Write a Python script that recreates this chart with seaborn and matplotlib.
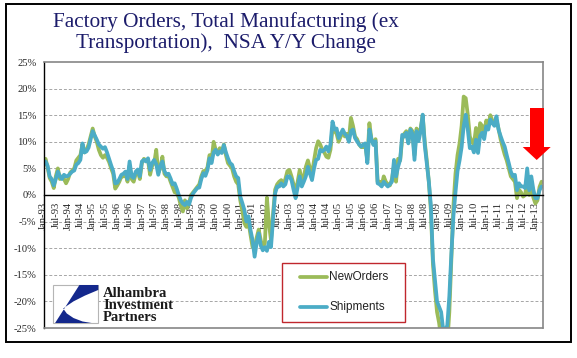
import numpy as np
import pandas as pd
import matplotlib
matplotlib.use("Agg")
import matplotlib.pyplot as plt
from matplotlib.patches import Rectangle, Polygon
import seaborn as sns

# monthly y/y change (%), Jan-93 .. Apr-13
shipments = [
    5.7, 6.3, 5.5, 3.5, 3.0, 1.8, 3.0, 4.4, 3.5, 3.0, 3.8, 3.5,
    3.6, 4.0, 4.4, 4.6, 5.7, 6.0, 6.6, 9.7, 8.0, 8.2, 8.9, 10.5,
    12.0, 11.2, 10.4, 9.5, 9.1, 8.7, 9.0, 8.0, 6.8, 5.6, 4.5, 2.2,
    2.3, 3.0, 3.8, 4.0, 4.4, 3.0, 6.3, 3.5, 3.2, 4.4, 4.8, 3.5,
    6.3, 6.6, 6.3, 6.9, 4.7, 6.0, 6.6, 5.8, 3.8, 5.5, 6.3, 4.5,
    3.8, 4.0, 3.1, 2.0, 2.2, 1.2, 0.0, -1.0, -1.6, -1.9, -1.3, -1.8,
    -0.5, 0.3, 0.8, 1.3, 1.4, 3.0, 4.1, 3.6, 4.7, 6.9, 6.0, 8.0,
    8.5, 7.6, 8.2, 7.9, 9.4, 8.0, 6.9, 6.0, 5.7, 4.5, 3.5, 3.2,
    -0.3, -1.5, -2.8, -5.0, -4.0, -6.6, -8.5, -11.6, -9.0, -7.2, -9.5, -10.4,
    -9.8, -10.5, -8.8, -9.8, -4.5, 0.3, 1.6, 1.6, 2.2, 1.6, 2.0, 3.5,
    3.5, 2.8, 1.0, -0.6, 1.5, 3.5, 1.6, 2.5, 3.5, 5.3, 4.0, 2.8,
    5.0, 6.6, 6.8, 8.5, 8.2, 8.5, 9.1, 8.2, 9.5, 13.8, 12.3, 12.5,
    10.7, 11.5, 12.3, 11.5, 11.1, 10.0, 12.0, 12.3, 10.7, 10.1, 9.5, 9.1,
    9.5, 9.7, 6.0, 12.3, 10.5, 9.4, 10.1, 2.2, 2.0, 1.6, 2.5, 2.0,
    1.6, 2.0, 2.5, 6.6, 3.5, 5.3, 6.6, 11.3, 11.0, 11.7, 9.7, 12.3,
    11.5, 6.6, 12.0, 10.1, 12.0, 15.1, 9.4, 6.0, 2.5, -2.0, -12.0, -16.0,
    -20.0, -21.0, -22.0, -25.3, -25.5, -24.5, -19.0, -11.0, -4.0, 0.5, 4.5, 6.5,
    9.0, 12.9, 15.1, 12.3, 8.8, 9.1, 8.0, 10.4, 7.9, 11.1, 11.7, 10.5,
    12.9, 12.3, 14.2, 13.5, 13.0, 14.8, 12.3, 11.1, 10.0, 9.1, 7.5, 6.0,
    4.4, 3.5, 3.8, 0.9, 2.2, 1.6, 1.6, 1.3, 5.0, 0.9, 3.5, 1.0,
    -0.6, -0.6, 0.9, 1.6,
]
new_orders = [
    6.0, 6.8, 5.2, 3.2, 2.5, 1.3, 3.5, 5.0, 3.0, 3.5, 3.0, 2.2,
    3.0, 4.2, 4.6, 5.0, 6.5, 7.0, 7.5, 9.5, 8.0, 8.5, 9.5, 11.0,
    12.5, 11.0, 10.0, 8.5, 7.5, 7.0, 7.5, 7.0, 6.2, 5.0, 4.0, 1.2,
    1.8, 2.5, 3.5, 3.5, 4.0, 2.5, 5.5, 3.0, 2.5, 4.0, 4.5, 3.0,
    6.0, 6.8, 6.5, 6.5, 3.8, 5.5, 6.0, 8.5, 4.2, 5.0, 7.2, 4.0,
    3.5, 3.6, 2.5, 1.5, 0.5, 0.5, -0.5, -2.0, -3.1, -1.0, -2.5, -1.5,
    0.0, 0.5, 1.0, 1.5, 2.0, 3.5, 4.5, 4.5, 5.2, 7.5, 6.5, 10.0,
    8.5, 8.0, 8.8, 8.0, 9.5, 7.5, 6.0, 5.5, 5.0, 3.5, 2.5, 2.0,
    -1.0, -3.0, -5.3, -6.0, -5.0, -7.5, -9.8, -9.9, -8.0, -6.5, -8.5, -10.0,
    -9.0, -0.5, -5.5, -8.5, -3.5, 1.0, 2.0, 2.5, 2.8, 2.0, 3.0, 4.5,
    4.7, 3.5, 2.0, 0.5, 2.5, 4.7, 2.5, 3.5, 5.3, 6.5, 5.0, 4.0,
    6.5, 8.8, 10.1, 9.5, 8.5, 8.0, 7.2, 7.0, 8.5, 12.5, 12.0, 11.5,
    10.0, 11.0, 12.0, 11.0, 11.5, 10.5, 14.5, 13.0, 11.0, 10.5, 9.5, 9.0,
    9.0, 9.5, 6.5, 13.5, 10.5, 9.5, 10.5, 2.5, 2.5, 1.8, 3.5, 2.5,
    2.0, 1.8, 3.0, 5.5, 2.5, 6.8, 6.5, 10.5, 11.5, 12.0, 10.0, 12.5,
    12.0, 7.5, 12.5, 11.0, 12.5, 15.0, 10.0, 6.5, 2.5, -3.0, -13.0, -18.0,
    -22.0, -24.0, -27.0, -28.5, -29.0, -28.0, -22.0, -12.0, -2.0, 4.0, 7.5, 9.7,
    13.0, 18.5, 18.2, 15.1, 11.0, 10.0, 9.5, 12.6, 9.0, 13.5, 13.0, 11.5,
    14.0, 13.0, 15.0, 14.0, 13.5, 14.0, 12.5, 10.5, 9.0, 7.6, 6.5, 5.0,
    3.5, 3.0, 2.5, -0.6, 1.0, 0.5, -0.3, 0.0, 3.0, 0.0, 1.5, -0.5,
    -1.6, -1.0, 1.5, 2.5,
]
months = list(range(len(shipments)))
tick_months = list(range(0, 241, 6))
tick_labels = [("Jan" if m % 12 == 0 else "Jul") + "-%02d" % ((93 + m // 12) % 100) for m in tick_months]
y_ticks = list(range(-25, 26, 5))

df = pd.concat([
    pd.DataFrame({"month": months, "value": new_orders, "series": "NewOrders"}),
    pd.DataFrame({"month": months, "value": shipments, "series": "Shipments"}),
])

W, H = 577, 358
def px(x, y):
    # pixel position (from top-left) -> figure fraction
    return (x / W, 1 - y / H)

sns.set_style("white")
serif = ["Liberation Serif", "DejaVu Serif"]
fig = plt.figure(figsize=(W / 100, H / 100), dpi=100)
ax = fig.add_axes([43.5 / W, 1 - 328 / H, (543 - 43.5) / W, (328 - 62) / H])

colors = {"NewOrders": "#9BBB59", "Shipments": "#4BACC6"}
sns.lineplot(data=df, x="month", y="value", hue="series", palette=colors,
             linewidth=2.7, legend=False, ax=ax)

ax.set_xlim(0, 243.7)
ax.set_ylim(-25, 25)
ax.set_xlabel("")
ax.set_ylabel("")
for v in y_ticks:
    if v not in (-25, 0, 25):
        ax.axhline(v, color="#A6A6A6", lw=0.7, ls=(0, (3, 2)), zorder=0)
ax.axhline(-25, color="#868686", lw=1.2, zorder=3, clip_on=False)

ax.spines["bottom"].set_position(("data", 0))
ax.spines["bottom"].set_color("black")
ax.spines["bottom"].set_linewidth(1.0)
ax.spines["left"].set_color("black")
ax.spines["left"].set_linewidth(1.0)
for s in ("top", "right"):
    ax.spines[s].set_color("#868686")
    ax.spines[s].set_linewidth(1.2)

ax.set_xticks(tick_months)
ax.set_xticklabels(tick_labels, rotation=90, family=serif, fontsize=7.6)
ax.set_yticks(y_ticks)
ax.set_yticklabels(["%d%%" % v for v in y_ticks], family=serif, fontsize=7.6)
ax.tick_params(axis="x", direction="out", length=4, width=0.8, pad=1)
ax.tick_params(axis="y", direction="out", length=3, width=0.8, pad=2)

# title
fig.text(226 / W, 1 - 12 / H,
         "Factory Orders, Total Manufacturing (ex\nTransportation),  NSA Y/Y Change",
         ha="center", va="top", family=serif, fontsize=15.3, color="#1C1C6B",
         linespacing=1.1)

# outer frame
fig.patches.append(Rectangle(px(6, 342), 565 / W, 338 / H, transform=fig.transFigure,
                             fill=False, edgecolor="black", lw=1.4))

# legend box
fig.patches.append(Rectangle(px(282, 322), 123 / W, 59 / H, transform=fig.transFigure,
                             facecolor="white", edgecolor="#C0272D", lw=1.0, zorder=5))
for name, yy in (("NewOrders", 277), ("Shipments", 307)):
    fig.lines.append(plt.Line2D([300 / W, 327 / W], [1 - yy / H] * 2, transform=fig.transFigure,
                                color=colors[name], lw=2.7, zorder=6))
    fig.text(329 / W, 1 - yy / H, name, ha="left", va="center", fontsize=8.5,
             family="Liberation Sans", color="#222222", zorder=6)

# logo
fig.patches.append(Rectangle(px(53.3, 323), 45 / W, 38 / H, transform=fig.transFigure,
                             facecolor="white", edgecolor="#B5B5B5", lw=0.8, zorder=5))
shape = [(0.58, 1), (1, 1), (1, 0.87), (0.7, 0.72), (0.45, 0.57), (0.3, 0.45), (0.22, 0.38),
         (0.3, 0.25), (0.45, 0.13), (0.65, 0.04), (0.85, 0), (0.04, 0)]
fig.patches.append(Polygon([px(53.3 + 45 * u, 323 - 38 * v) for u, v in shape], closed=True,
                           transform=fig.transFigure, facecolor="#14288C", edgecolor="none", zorder=6))
for word, yy in (("Alhambra", 296.7), ("Investment", 309.3), ("Partners", 321)):
    fig.text(103 / W, 1 - yy / H, word, ha="left", va="baseline", family=serif,
             fontsize=10.5, fontweight="bold", color="#1A1A1A", zorder=6)

# red arrow
arrow = [(530, 108), (544, 108), (544, 147), (550.7, 147), (536.7, 160), (522.7, 147), (530, 147)]
fig.patches.append(Polygon([px(x, y) for x, y in arrow], closed=True, transform=fig.transFigure,
                           facecolor="#FF0000", edgecolor="none", zorder=7))

fig.savefig("out.png", dpi=100, facecolor="white")
